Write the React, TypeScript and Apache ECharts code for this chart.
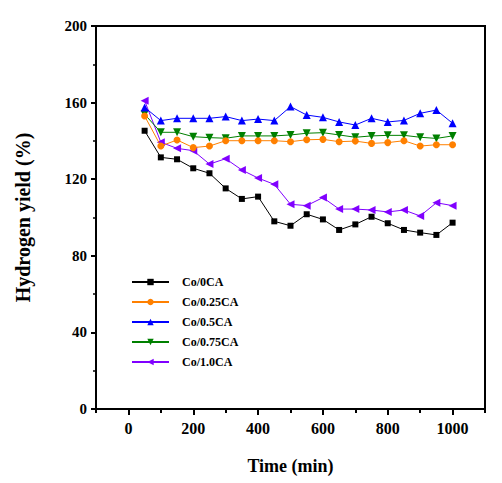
import React, { useEffect, useRef } from "react";
import * as echarts from "echarts";

const times = [50, 100, 150, 200, 250, 300, 350, 400, 450, 500, 550, 600, 650, 700, 750, 800, 850, 900, 950, 1000];
const co0 = [145.3, 131.4, 130.4, 125.7, 123.1, 115.2, 109.7, 110.9, 98.0, 95.7, 101.7, 99.0, 93.5, 96.4, 100.4, 97.0, 93.5, 92.1, 90.9, 97.3];
const co025 = [153, 137.3, 140.5, 136.5, 137.3, 140.1, 140.1, 140.1, 140.1, 139.6, 140.6, 140.8, 139.6, 139.9, 138.7, 139.1, 140.1, 137.3, 138, 138];
const co05 = [157.5, 150.6, 151.8, 151.8, 151.8, 152.7, 150.6, 151.4, 150.6, 157.9, 153.5, 152.3, 149.9, 148.3, 151.8, 149.9, 150.7, 154.4, 156.1, 149.2];
const co075 = [153.9, 144.5, 144.5, 142.2, 141.7, 141.4, 142.6, 142.6, 142.6, 143.1, 144, 144.3, 143.1, 141.9, 142.6, 142.9, 142.9, 141.9, 141.3, 142.6];
const co10 = [161, 139.3, 136.1, 134.9, 127.9, 130.7, 124.8, 120.6, 117.3, 106.9, 106.2, 110.4, 104.4, 104.4, 103.9, 102.9, 103.9, 100.8, 107.7, 106.2];

const seriesNames = ["Co/0CA", "Co/0.25CA", "Co/0.5CA", "Co/0.75CA", "Co/1.0CA"];
const seriesValues = [co0, co025, co05, co075, co10];
const seriesColors = ["#000000", "#ff8000", "#0000ff", "#008000", "#8000ff"];
const seriesSymbols = ["rect", "circle", "triangle", "triangle", "triangle"];
const seriesRotate = [0, 0, 0, 180, 90];
const seriesSizes = [6, 7, 8, 8, 8];

const xMajorTicks = [0, 200, 400, 600, 800, 1000];
const xMinorTicks = [-100, 100, 300, 500, 700, 900, 1100];

const FONT = "'Liberation Serif', 'DejaVu Serif', serif";

export default function App() {
  const ref = useRef<HTMLDivElement>(null);
  useEffect(() => {
    if (!ref.current) return;
    const chart = echarts.init(ref.current, undefined, { renderer: "svg" });
    chart.setOption({
      animation: false,
      backgroundColor: "#ffffff",
      grid: {
        left: 96,
        right: 17,
        top: 26,
        bottom: 74,
        show: true,
        borderColor: "#000",
        borderWidth: 2,
        backgroundColor: "transparent",
      },
      legend: {
        orient: "vertical",
        left: 131,
        top: 276,
        padding: 0,
        itemWidth: 37,
        itemHeight: 8,
        itemGap: 8,
        data: seriesNames,
        textStyle: {
          fontFamily: FONT,
          fontWeight: "bold",
          fontSize: 12,
          lineHeight: 12,
          color: "#000",
          padding: [0, 0, 0, 8],
        },
      },
      xAxis: [
        {
          type: "value",
          min: -100,
          max: 1100,
          position: "bottom",
          name: "Time (min)",
          nameLocation: "middle",
          nameGap: 48,
          nameTextStyle: { fontFamily: FONT, fontWeight: "bold", fontSize: 18, color: "#000" },
          axisLine: { show: true, onZero: false, lineStyle: { color: "#000", width: 2 } },
          axisTick: { show: true, length: 6, customValues: xMajorTicks, lineStyle: { color: "#000", width: 2 } },
          axisLabel: {
            customValues: xMajorTicks,
            formatter: (v: number) => String(v),
            margin: 11,
            fontFamily: FONT,
            fontWeight: "bold",
            fontSize: 16,
            color: "#000",
          },
          splitLine: { show: false },
        },
        {
          type: "value",
          min: -100,
          max: 1100,
          position: "bottom",
          axisLine: { show: false, onZero: false },
          axisTick: { show: true, length: 4, customValues: xMinorTicks, lineStyle: { color: "#000", width: 2 } },
          axisLabel: { show: false },
          splitLine: { show: false },
        },
      ],
      yAxis: {
        type: "value",
        min: 0,
        max: 200,
        interval: 40,
        name: "Hydrogen yield (%)",
        nameLocation: "middle",
        nameGap: 63,
        nameTextStyle: { fontFamily: FONT, fontWeight: "bold", fontSize: 20, color: "#000" },
        axisLine: { show: true, onZero: false, lineStyle: { color: "#000", width: 2 } },
        axisTick: { show: true, length: 5, lineStyle: { color: "#000", width: 2 } },
        minorTick: { show: true, splitNumber: 2, length: 3, lineStyle: { color: "#000", width: 1.5 } },
        axisLabel: { margin: 9, fontFamily: FONT, fontWeight: "bold", fontSize: 15, color: "#000" },
        splitLine: { show: false },
      },
      series: seriesNames.map((name, i) => ({
        name,
        type: "line",
        xAxisIndex: 0,
        data: times.map((t, j) => [t, seriesValues[i][j]]),
        symbol: seriesSymbols[i],
        symbolSize: seriesSizes[i],
        symbolRotate: seriesRotate[i],
        color: seriesColors[i],
        lineStyle: { width: 1, color: seriesColors[i] },
        itemStyle: { color: seriesColors[i] },
        z: 10 - i,
      })),
    });
    return () => chart.dispose();
  }, []);
  return (
    <div
      ref={ref}
      style={{ position: "fixed", left: 0, top: 0, width: 502, height: 483, background: "#fff" }}
    />
  );
}
